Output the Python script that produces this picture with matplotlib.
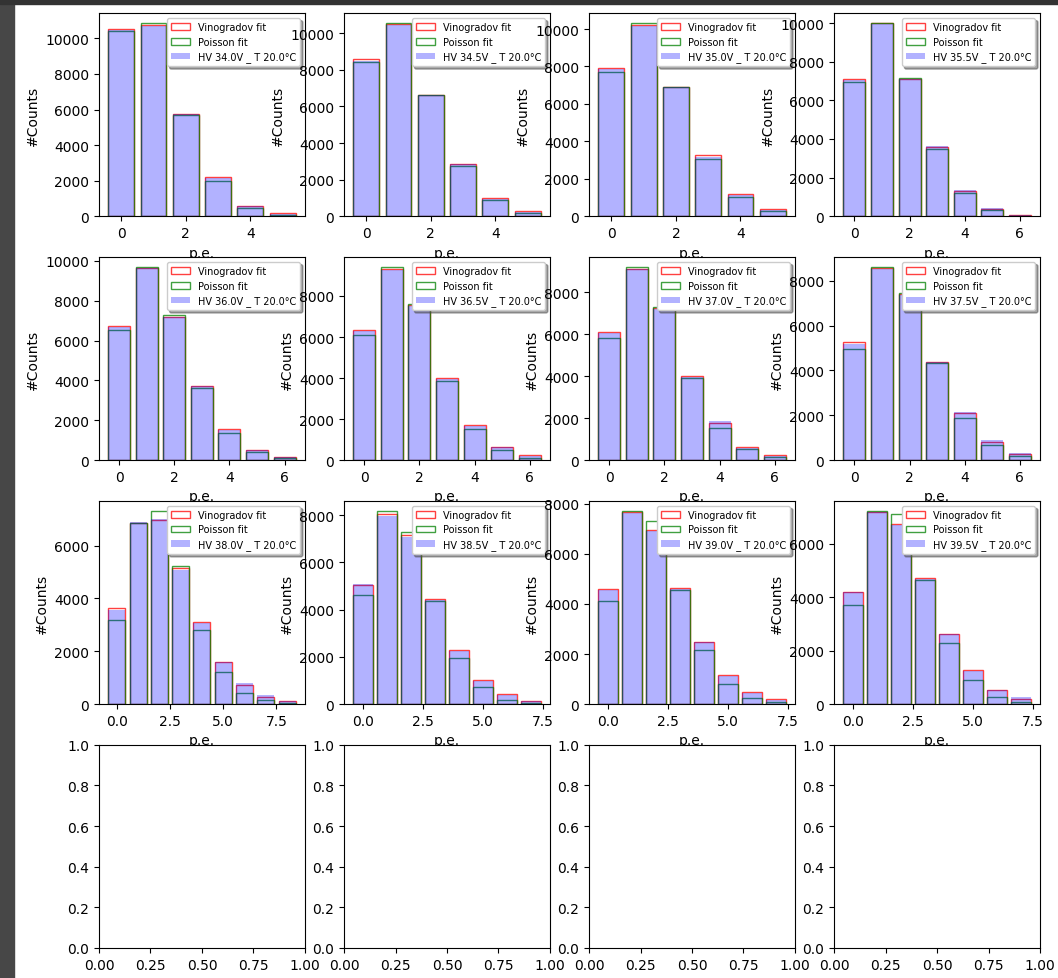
import numpy as np
import matplotlib
matplotlib.use("Agg")
import matplotlib.pyplot as plt
from matplotlib.patches import Rectangle

# ── data (counts per p.e. bin) ────────────────────────────────────────────────
hv_values = ["34.0", "34.5", "35.0", "35.5", "36.0", "36.5",
             "37.0", "37.5", "38.0", "38.5", "39.0", "39.5"]
temperature = "20.0"

data_counts = [
    [10470, 10700, 5720, 2130, 560, 140],
    [8500, 10470, 6600, 2830, 960, 240],
    [7850, 10160, 6900, 3180, 1150, 330],
    [7070, 9960, 7080, 3650, 1350, 430, 80],
    [6680, 9630, 7180, 3720, 1500, 490, 150],
    [6300, 9285, 7500, 3930, 1680, 620, 180],
    [6030, 9080, 7200, 3970, 1850, 600, 200],
    [5200, 8527, 7350, 4380, 2140, 900, 310],
    [3580, 6880, 7010, 5070, 3080, 1610, 780, 330, 100],
    [5100, 7960, 7080, 4400, 2260, 980, 390, 120],
    [4550, 7653, 6900, 4600, 2470, 1130, 460, 160],
    [4200, 7175, 6700, 4680, 2620, 1250, 520, 250],
]

vinogradov_counts = [
    [10530, 10750, 5750, 2180, 600, 170],
    [8560, 10500, 6600, 2880, 985, 275],
    [7910, 10200, 6900, 3250, 1180, 375],
    [7130, 9980, 7100, 3570, 1330, 380, 90],
    [6745, 9650, 7200, 3740, 1545, 520, 170],
    [6340, 9300, 7550, 3985, 1707, 650, 230],
    [6080, 9100, 7250, 4000, 1746, 635, 238],
    [5250, 8550, 7400, 4390, 2083, 820, 283],
    [3657, 6860, 6980, 5170, 3115, 1589, 731, 277, 126],
    [5060, 8060, 7150, 4438, 2276, 1003, 410, 141],
    [4587, 7680, 6950, 4640, 2480, 1147, 480, 187],
    [4200, 7200, 6750, 4700, 2625, 1262, 537, 187],
]

poisson_counts = [
    [10430, 10880, 5680, 1990, 490, 95],
    [8450, 10570, 6620, 2770, 875, 200],
    [7730, 10340, 6930, 3050, 1020, 270],
    [6955, 10020, 7180, 3460, 1180, 330, 35],
    [6510, 9715, 7300, 3640, 1340, 420, 115],
    [6080, 9430, 7600, 3840, 1512, 490, 130],
    [5825, 9210, 7300, 3890, 1508, 508, 143],
    [4970, 8630, 7470, 4315, 1875, 655, 180],
    [3178, 6840, 7330, 5245, 2800, 1198, 416, 139, 50],
    [4608, 8200, 7293, 4353, 1950, 707, 184, 57],
    [4120, 7733, 7307, 4547, 2147, 813, 253, 67],
    [3700, 7240, 7100, 4640, 2300, 887, 275, 75],
]

# ── figure ────────────────────────────────────────────────────────────────────
W, H = 1058, 979
fig, axes = plt.subplots(4, 4, figsize=(W / 100, H / 100), dpi=100)
fig.subplots_adjust(left=99 / W, right=1040 / W, top=1 - 14 / H,
                    bottom=1 - 949 / H, wspace=0.19, hspace=0.2)

# dark frame of the notebook screenshot
fig.add_artist(Rectangle((0, 0), 14 / W, 1, transform=fig.transFigure,
                         color="#474747", zorder=-1))
fig.add_artist(Rectangle((0, 1 - 5 / H), 1, 5 / H, transform=fig.transFigure,
                         color="#333333", zorder=-1))

for i, hv in enumerate(hv_values):
    ax = axes.flat[i]
    x = np.arange(len(data_counts[i]))
    ax.bar(x, vinogradov_counts[i], width=0.8, fill=False,
           edgecolor="red", linewidth=1, alpha=0.75, label="Vinogradov fit")
    ax.bar(x, poisson_counts[i], width=0.8, fill=False,
           edgecolor="green", linewidth=1, alpha=0.75, label="Poisson fit")
    ax.bar(x, data_counts[i], width=0.8, color="blue", alpha=0.3,
           label=f"HV {hv}V _ T {temperature}°C")
    ax.set_xlabel("p.e.")
    ax.set_ylabel("#Counts")
    ax.legend(loc="upper right", fontsize=7, shadow=True)

fig.savefig("out.png", dpi=100)
